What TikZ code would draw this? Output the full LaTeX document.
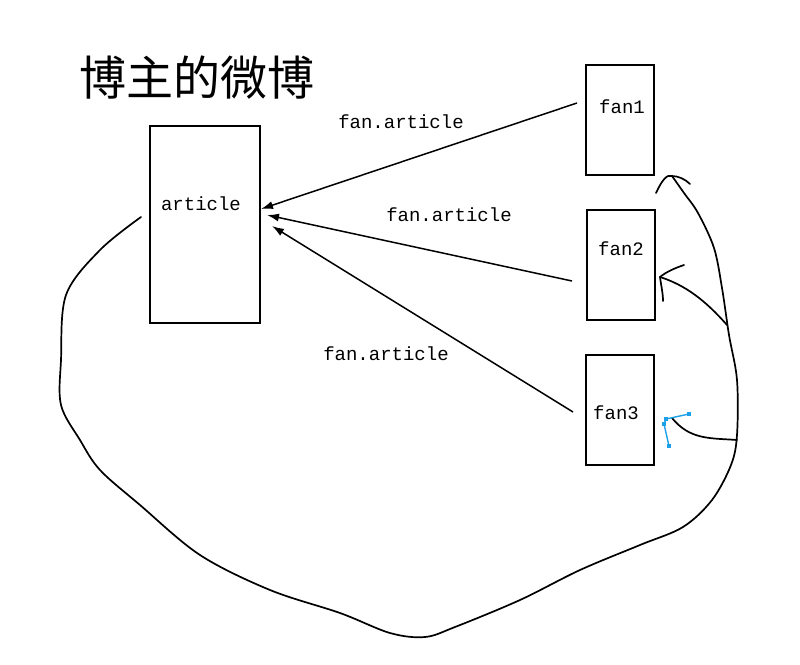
\documentclass[tikz,border=0pt]{standalone}
\usepackage{fontspec}
\setmonofont{Liberation Mono}
\newfontfamily\cjk{Noto Sans CJK SC}
\usetikzlibrary{arrows.meta,positioning,calc}
\definecolor{Ink}{HTML}{000000}
\definecolor{Handle}{HTML}{1CA0E8}
\tikzset{
  box/.style={draw=Ink,line width=1.5pt,inner sep=0pt},
  lbl/.style={font=\ttfamily\fontsize{19}{21}\selectfont,inner sep=0pt},
  share/.style={draw=Ink,line width=1.5pt,-{Latex[length=12pt,width=8pt]}},
  pen/.style={draw=Ink,line width=1.7pt,line cap=round,line join=round},
}
\newcommand{\HandleDot}[2]{%
  \fill[Handle] (#1-2.2,#2-2.2) rectangle (#1+2.2,#2+2.2);%
}

\begin{document}
\begin{tikzpicture}[x=1pt,y=-1pt]
\useasboundingbox (0,0) rectangle (800,664);
\node[font=\cjk\fontsize{47}{49}\selectfont,anchor=west,inner sep=0pt] (title) at (79,78) {博主的微博};
% the blog owner's box
\node[box,minimum width=110pt,minimum height=197pt] (artbox) at (205,224.5) {};
\node[lbl] (arttxt) at (201,204) {article};
% fans
\foreach \n/\cx/\cy/\tx/\ty in {1/620/120/622/107, 2/621/265/621/249, 3/620/410/616/413} {
  \node[box,minimum width=68pt,minimum height=110pt] (fan\n) at (\cx,\cy) {};
  \node[lbl] (fantxt\n) at (\tx,\ty) {fan\n};
}
% arrows from the fans
\coordinate (s1) at (577,103);
\coordinate (s2) at (572,281);
\coordinate (s3) at (573,412);
\coordinate (e1) at (261,209);
\coordinate (e2) at (267,215);
\coordinate (e3) at (272,226);
\draw[share] (s1) -- (e1);
\draw[share] (s2) -- (e2);
\draw[share] (s3) -- (e3);
\node[lbl] (l1) at (401,122) {fan.article};
\node[lbl] (l2) at (449,215) {fan.article};
\node[lbl] (l3) at (386,354) {fan.article};
% hand drawn loop
\draw[pen] plot[smooth,tension=0.55] coordinates {
  (141,217) (100,250) (66,295) (61,360) (61,405) (80,440) (100,470)
  (140,505) (200,555) (270,590) (340,613) (390,633) (425,637)
  (455,627) (520,600) (580,570) (640,545) (683,527) (712,500) (731,465)
  (737,435) (737,380) (729,335) (722,288) (714,248) (698,213) (684,193) (672,176)};
\draw[pen] (656,193) .. controls (662,180) and (667,174) .. (672,176)
  .. controls (678,176) and (685,179) .. (690,184);
% branch to fan2
\draw[pen] (727,325) .. controls (705,300) and (685,285) .. (660,277);
\draw[pen] (684,265) .. controls (675,268) and (666,272) .. (660,277)
  .. controls (661,285) and (663,293) .. (663,301);
% branch to fan3
\draw[pen] (737,440) .. controls (710,438) and (690,440) .. (672,418);
\draw[Handle,line width=1.4pt] (689,414) -- (666,419) -- (664,424) -- (669,446);
\HandleDot{689}{414}
\HandleDot{666}{419}
\HandleDot{664}{424}
\HandleDot{669}{446}
\end{tikzpicture}
\end{document}
